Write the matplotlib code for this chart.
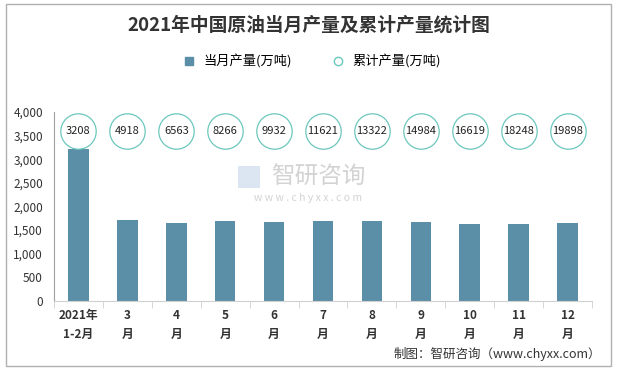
import matplotlib.pyplot as plt
from matplotlib.patches import Rectangle

plt.rcParams['font.family'] = ['Noto Sans CJK SC', 'DejaVu Sans']

months = ['2021年\n1-2月', '3\n月', '4\n月', '5\n月', '6\n月', '7\n月',
          '8\n月', '9\n月', '10\n月', '11\n月', '12\n月']
monthly = [3208, 1710, 1645, 1703, 1666, 1689, 1701, 1662, 1635, 1629, 1650]
cumulative = [3208, 4918, 6563, 8266, 9932, 11621, 13322, 14984, 16619, 18248, 19898]

bar_color = '#5b8fa8'
ring_color = '#6cc7bd'

fig = plt.figure(figsize=(6.17, 3.70), dpi=100)
ax = fig.add_axes([54/617, 1-301/370, 538/617, 189/370])

x = list(range(len(months)))
ax.bar(x, monthly, width=0.42, color=bar_color, label='当月产量(万吨)', zorder=2)

# cumulative values drawn as rings with the number inside
ring_y = [3600] * len(x)
ax.scatter(x, ring_y, s=650, facecolor='white', edgecolor=ring_color,
           linewidth=0.9, zorder=3)
for xi, v in zip(x, cumulative):
    ax.text(xi, 3600, str(v), ha='center', va='center', fontsize=8,
            color='#222222', zorder=4)

ax.set_xlim(-0.5, len(x) - 0.5)
ax.set_ylim(0, 4000)
ax.set_yticks(range(0, 4001, 500))
ax.set_yticklabels([f'{v:,}' for v in range(0, 4001, 500)], fontsize=8.5,
                   color='#333333')
ax.set_xticks(x)
ax.set_xticklabels(months, fontsize=8.5, fontweight='bold', color='#333333',
                   linespacing=1.6)
ax.tick_params(axis='x', length=0, pad=6)
ax.tick_params(axis='y', length=0, pad=8)
ax.set_xticks([i + 0.5 for i in range(-1, len(x))], minor=True)
ax.tick_params(axis='x', which='minor', length=5, color='#d0d0d0')

for s in ['top', 'right']:
    ax.spines[s].set_visible(False)
ax.spines['left'].set_color('#a0a0a0')
ax.spines['bottom'].set_color('#d0d0d0')

# legend
lh = [plt.Line2D([], [], marker='s', linestyle='', markersize=6,
                 markerfacecolor=bar_color, markeredgecolor=bar_color),
      plt.Line2D([], [], marker='o', linestyle='', markersize=6,
                 markerfacecolor='white', markeredgecolor=ring_color)]
fig.legend(lh, ['当月产量(万吨)', '累计产量(万吨)'], loc='center',
           bbox_to_anchor=(0.5, 1 - 62/370), ncol=2, frameon=False,
           fontsize=9.5, handletextpad=0.1, columnspacing=2.5)

fig.text(0.5, 1 - 25/370, '2021年中国原油当月产量及累计产量统计图', ha='center',
         va='center', fontsize=13.5, fontweight='bold', color='#333333')

# watermark
fig.patches.append(Rectangle((238/617, 1 - 188/370), 22/617, 22/370,
                             facecolor='#dbe6f2', edgecolor='none', zorder=0,
                             transform=fig.transFigure))
fig.text(318/617, 1 - 177/370, '智研咨询', ha='center', va='center', fontsize=17,
         color='#d3d3d3', zorder=0)
fig.text(0.5, 1 - 198/370, 'w w w . c h y x x . c o m', ha='center', va='center',
         fontsize=7.5, color='#d3d3d3', zorder=0)

fig.text(601/617, 1 - 354/370, '制图：智研咨询（www.chyxx.com）', ha='right',
         va='center', fontsize=9, color='#333333')

fig.patches.append(Rectangle((6/617, 4/370), 605/617, 362/370, fill=False,
                             edgecolor='#b0b0b0', linewidth=1,
                             transform=fig.transFigure))

fig.savefig('out.png', dpi=100)
